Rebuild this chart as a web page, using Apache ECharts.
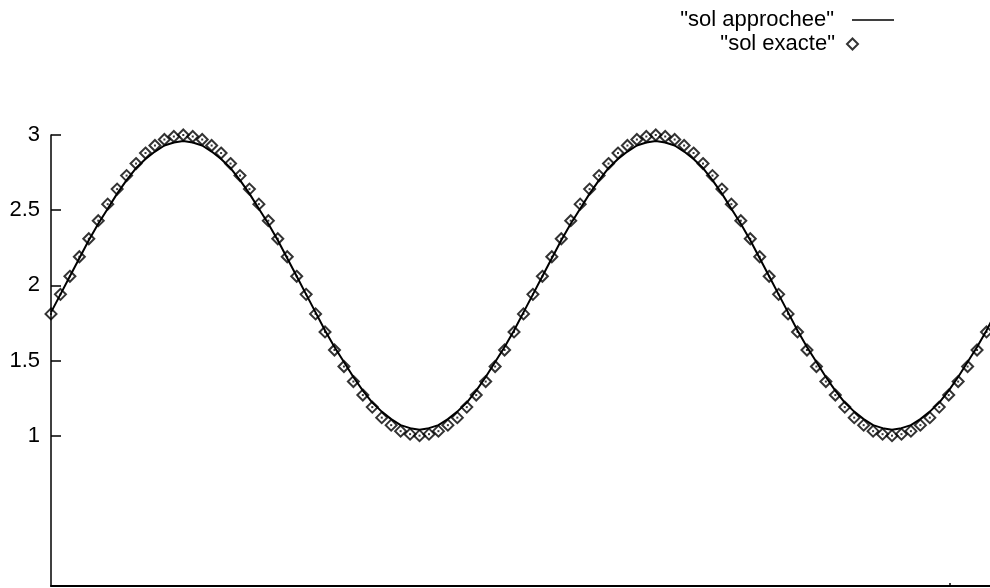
<!DOCTYPE html>
<html>
<head>
<meta charset="utf-8">
<script src="https://cdn.jsdelivr.net/npm/echarts@6/dist/echarts.min.js"></script>
<style>
html,body{margin:0;padding:0;background:#fff;}
#chart{width:990px;height:588px;}
</style>
</head>
<body>
<div id="chart"></div>
<script>
// Sample index along the horizontal axis
const xValues = [0,1,2,3,4,5,6,7,8,9,10,11,12,13,14,15,16,17,18,19,20,21,22,23,24,25,26,27,28,29,30,31,32,33,34,35,36,37,38,39,40,41,42,43,44,45,46,47,48,49,50,51,52,53,54,55,56,57,58,59,60,61,62,63,64,65,66,67,68,69,70,71,72,73,74,75,76,77,78,79,80,81,82,83,84,85,86,87,88,89,90,91,92,93,94,95,96,97,98,99,100];

// "sol approchee" (line)
const solApprochee = [1.82,1.94,2.06,2.18,2.30,2.41,2.51,2.61,2.70,2.78,2.84,2.89,2.93,2.95,2.96,2.95,2.93,2.89,2.84,2.78,2.70,2.61,2.51,2.41,2.30,2.18,2.06,1.94,1.82,1.70,1.59,1.49,1.39,1.30,1.22,1.16,1.11,1.07,1.05,1.04,1.05,1.07,1.11,1.16,1.22,1.30,1.39,1.49,1.59,1.70,
1.82,1.94,2.06,2.18,2.30,2.41,2.51,2.61,2.70,2.78,2.84,2.89,2.93,2.95,2.96,2.95,2.93,2.89,2.84,2.78,2.70,2.61,2.51,2.41,2.30,2.18,2.06,1.94,1.82,1.70,1.59,1.49,1.39,1.30,1.22,1.16,1.11,1.07,1.05,1.04,1.05,1.07,1.11,1.16,1.22,1.30,1.39,1.49,1.59,1.70,1.82];

// "sol exacte" (diamond points)
const solExacte = [1.81,1.94,2.06,2.19,2.31,2.43,2.54,2.64,2.73,2.81,2.88,2.93,2.97,2.99,3.00,2.99,2.97,2.93,2.88,2.81,2.73,2.64,2.54,2.43,2.31,2.19,2.06,1.94,1.81,1.69,1.57,1.46,1.36,1.27,1.19,1.12,1.07,1.03,1.01,1.00,1.01,1.03,1.07,1.12,1.19,1.27,1.36,1.46,1.57,1.69,
1.81,1.94,2.06,2.19,2.31,2.43,2.54,2.64,2.73,2.81,2.88,2.93,2.97,2.99,3.00,2.99,2.97,2.93,2.88,2.81,2.73,2.64,2.54,2.43,2.31,2.19,2.06,1.94,1.81,1.69,1.57,1.46,1.36,1.27,1.19,1.12,1.07,1.03,1.01,1.00,1.01,1.03,1.07,1.12,1.19,1.27,1.36,1.46,1.57,1.69];

const yTickValues = [1, 1.5, 2, 2.5, 3];
const xTickValues = [95.1];

const nameApprochee = '"sol approchee"';
const nameExacte = '"sol exacte"';

const FONT = '"Liberation Sans", Arial, Helvetica, sans-serif';
// thin horizontal stroke icon (tiny anchor specks keep the full box height)
const LINE_ICON = 'path://M0,0 L0.01,0 L0.01,0.01 Z M0,10.2 L42,10.2 L42,11.8 L0,11.8 Z M0,22 L0.01,22 L0.01,21.99 Z';

const approData = solApprochee.map((v, i) => [xValues[i], v]);
const exactData = solExacte.map((v, i) => [xValues[i], v]);

const chart = echarts.init(document.getElementById('chart'), null, {renderer: 'canvas'});
chart.setOption({
  animation: false,
  backgroundColor: '#ffffff',
  grid: {left: 51, right: 0, top: 135, bottom: 2, containLabel: false},
  legend: [
    {
      data: [{name: nameApprochee, icon: LINE_ICON, itemStyle: {color: '#000', borderWidth: 0}}],
      orient: 'vertical', align: 'right',
      right: 96, top: 9, padding: 0,
      itemWidth: 42, itemHeight: 22,
      selectedMode: false,
      textStyle: {fontSize: 22, fontFamily: FONT, color: '#000', padding: [0, 13, 0, 0]}
    },
    {
      data: [{name: nameExacte, icon: 'diamond'}],
      orient: 'vertical', align: 'right',
      right: 131, top: 33, padding: 0,
      itemWidth: 11, itemHeight: 11,
      selectedMode: false,
      textStyle: {fontSize: 22, fontFamily: FONT, color: '#000', padding: [0, 7, 0, 0]}
    }
  ],
  xAxis: {
    type: 'value', min: 0, max: 99.37,
    axisLine: {show: true, onZero: false, lineStyle: {color: '#000', width: 2}},
    axisTick: {show: true, inside: true, length: 3, customValues: xTickValues, lineStyle: {color: '#000', width: 1.5}},
    axisLabel: {show: false},
    splitLine: {show: false}
  },
  yAxis: {
    type: 'value', min: 0, max: 3,
    axisLine: {show: true, onZero: false, lineStyle: {color: '#000', width: 1.5}},
    axisTick: {show: true, inside: true, length: 10, customValues: yTickValues, lineStyle: {color: '#000', width: 1.5}},
    axisLabel: {show: true, customValues: yTickValues, margin: 11, fontSize: 22, fontFamily: FONT, color: '#000'},
    splitLine: {show: false}
  },
  series: [
    {
      name: nameApprochee,
      type: 'line',
      data: approData,
      symbol: 'none',
      clip: true,
      lineStyle: {color: '#000', width: 2},
      itemStyle: {color: '#000'},
      z: 2
    },
    {
      name: nameExacte,
      type: 'scatter',
      data: exactData,
      symbol: 'diamond',
      symbolSize: 11,
      clip: false,
      itemStyle: {color: 'rgba(255,255,255,0)', borderColor: '#000', borderWidth: 2},
      z: 3
    },
    {
      name: 'centres',
      type: 'scatter',
      data: exactData,
      symbol: 'rect',
      symbolSize: 2,
      clip: false,
      silent: true,
      itemStyle: {color: '#000'},
      z: 4
    }
  ]
});
</script>
</body>
</html>
